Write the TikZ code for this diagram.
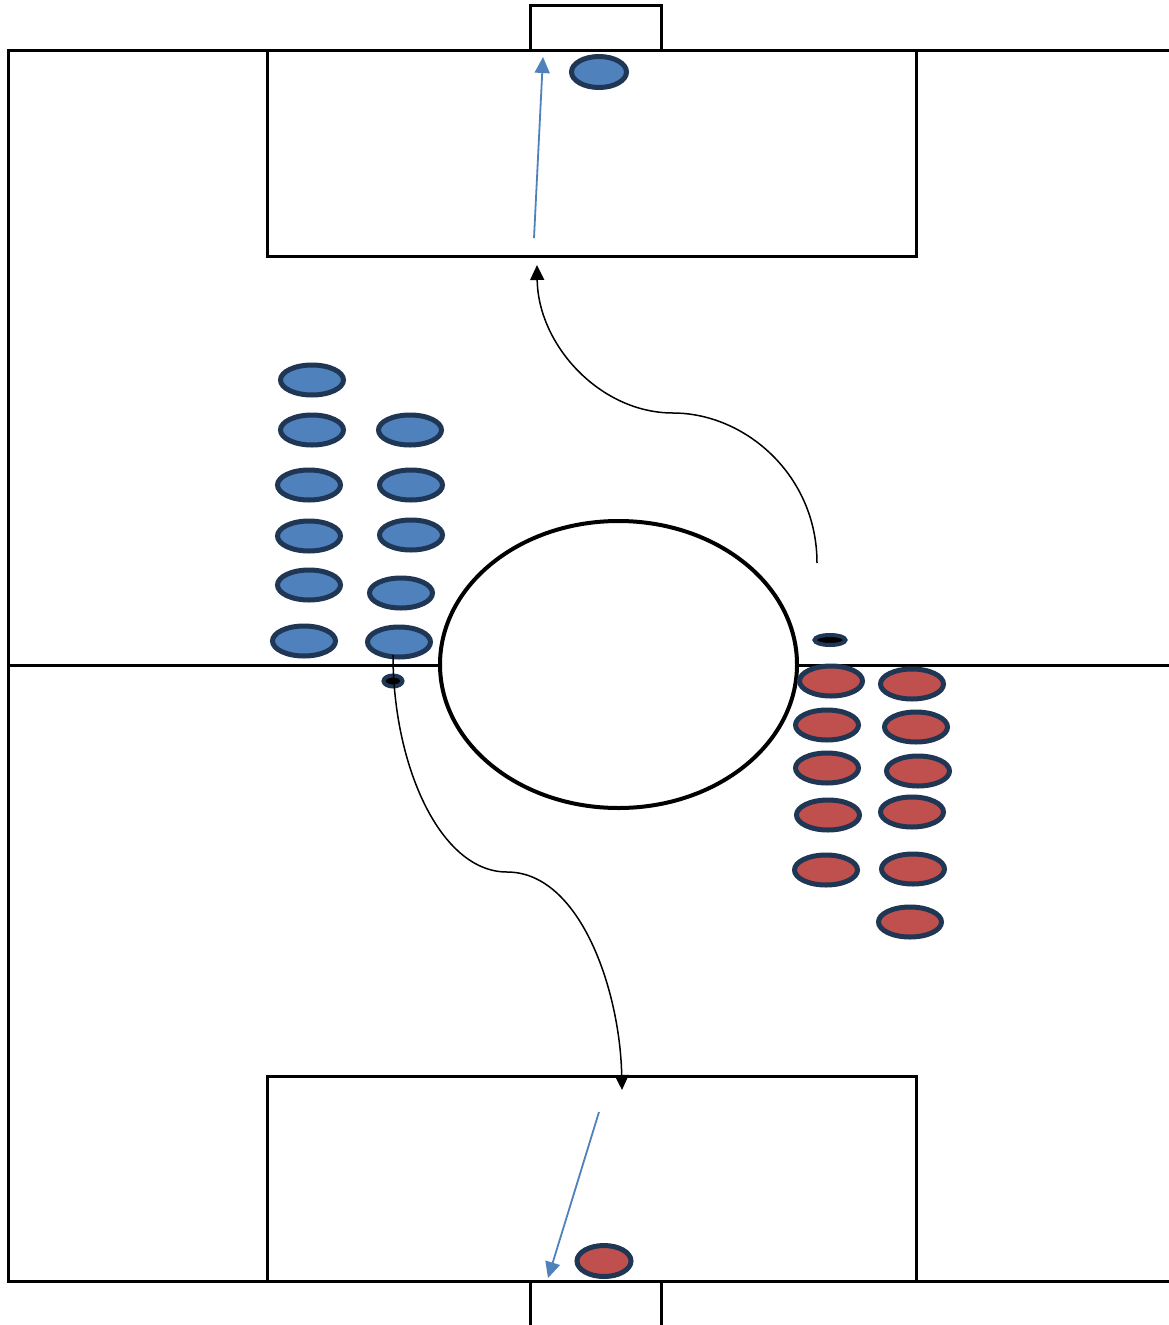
\documentclass[tikz,border=0pt]{standalone}
\usetikzlibrary{shapes.geometric,arrows.meta}
\definecolor{pblue}{HTML}{4F81BD}
\definecolor{pred}{HTML}{C0504D}
\definecolor{navy}{HTML}{1F3654}
\begin{document}
\begin{tikzpicture}[x=1pt,y=-1pt,
  fieldline/.style={line width=3pt,line cap=rect},
  player/.style={ellipse,draw=navy,line width=5pt,minimum width=63pt,minimum height=30pt,inner sep=0pt},
  blueplayer/.style={player,fill=pblue},
  redplayer/.style={player,fill=pred},
  ballmark/.style={ellipse,draw=navy,line width=4pt,fill=black,inner sep=0pt},
  run/.style={line width=1.5pt,-{Triangle[length=15pt,width=14pt]}},
  pass/.style={pblue,line width=1.8pt,-{Triangle[length=16pt,width=15pt]}}]
\useasboundingbox (0,0) rectangle (1168,1325);
\fill[white] (0,0) rectangle (1168,1325);
% field
\draw[fieldline] (1170,50) -- (8,50) -- (8,1281) -- (1170,1281);
\draw[fieldline] (8,665) -- (1170,665);
\draw[fieldline] (267,50) -- (267,256) -- (916,256) -- (916,50);
\draw[fieldline] (267,1281) -- (267,1076) -- (916,1076) -- (916,1281);
\draw[fieldline] (530,50) -- (530,5) -- (661,5) -- (661,50);
\draw[fieldline] (530,1281) -- (530,1330);
\draw[fieldline] (661,1281) -- (661,1330);
\node[ellipse,draw=black,fill=white,line width=4pt,minimum width=357pt,minimum height=287pt,inner sep=0pt] (circ) at (618.5,664.5) {};
% blue players
\node[blueplayer] (b1) at (312,380) {};
\node[blueplayer] (b2) at (312,430) {};
\node[blueplayer] (b3) at (309,485) {};
\node[blueplayer] (b4) at (309,536) {};
\node[blueplayer] (b5) at (309,585) {};
\node[blueplayer] (b6) at (304,641) {};
\node[blueplayer] (b7) at (410,430) {};
\node[blueplayer] (b8) at (411,485) {};
\node[blueplayer] (b9) at (411,535) {};
\node[blueplayer] (b10) at (401,593) {};
\node[blueplayer] (b11) at (399,642) {};
% red players
\node[redplayer] (r1) at (831,681) {};
\node[redplayer] (r2) at (827,725) {};
\node[redplayer] (r3) at (827,768) {};
\node[redplayer] (r4) at (828,815) {};
\node[redplayer] (r5) at (826,870) {};
\node[redplayer] (r6) at (912,684) {};
\node[redplayer] (r7) at (916,727) {};
\node[redplayer] (r8) at (918,771) {};
\node[redplayer] (r9) at (912,812) {};
\node[redplayer] (r10) at (913,869) {};
\node[redplayer] (r11) at (910,922) {};
% goalkeepers
\node[blueplayer,minimum width=55pt,minimum height=31pt] (gkb) at (599,72) {};
\node[redplayer,minimum width=54pt,minimum height=31pt] (gkr) at (604,1261) {};
% ball markers
\node[ballmark,minimum width=19pt,minimum height=11pt] (mb) at (393,681) {};
\node[ballmark,minimum width=31pt,minimum height=10pt] (mr) at (830,640) {};
% coordinates for runs and passes
\coordinate (s1) at (393,655);
\coordinate (m1) at (507,872);
\coordinate (e1) at (622,1090);
\coordinate (s2) at (817,563);
\coordinate (m2) at (673,413);
\coordinate (e2) at (537,265);
\coordinate (pb1) at (534,238);
\coordinate (pb2) at (543,57);
\coordinate (pr1) at (599,1112);
\coordinate (pr2) at (548,1278);
% runs
\draw[run] (s1) .. controls (393,765) and (440,872) .. (m1) .. controls (580,872) and (620,990) .. (e1);
\draw[run] (s2) .. controls (817,475) and (745,413) .. (m2) .. controls (600,413) and (538,345) .. (e2);
% passes
\draw[pass] (pb1) -- (pb2);
\draw[pass] (pr1) -- (pr2);
\end{tikzpicture}
\end{document}
